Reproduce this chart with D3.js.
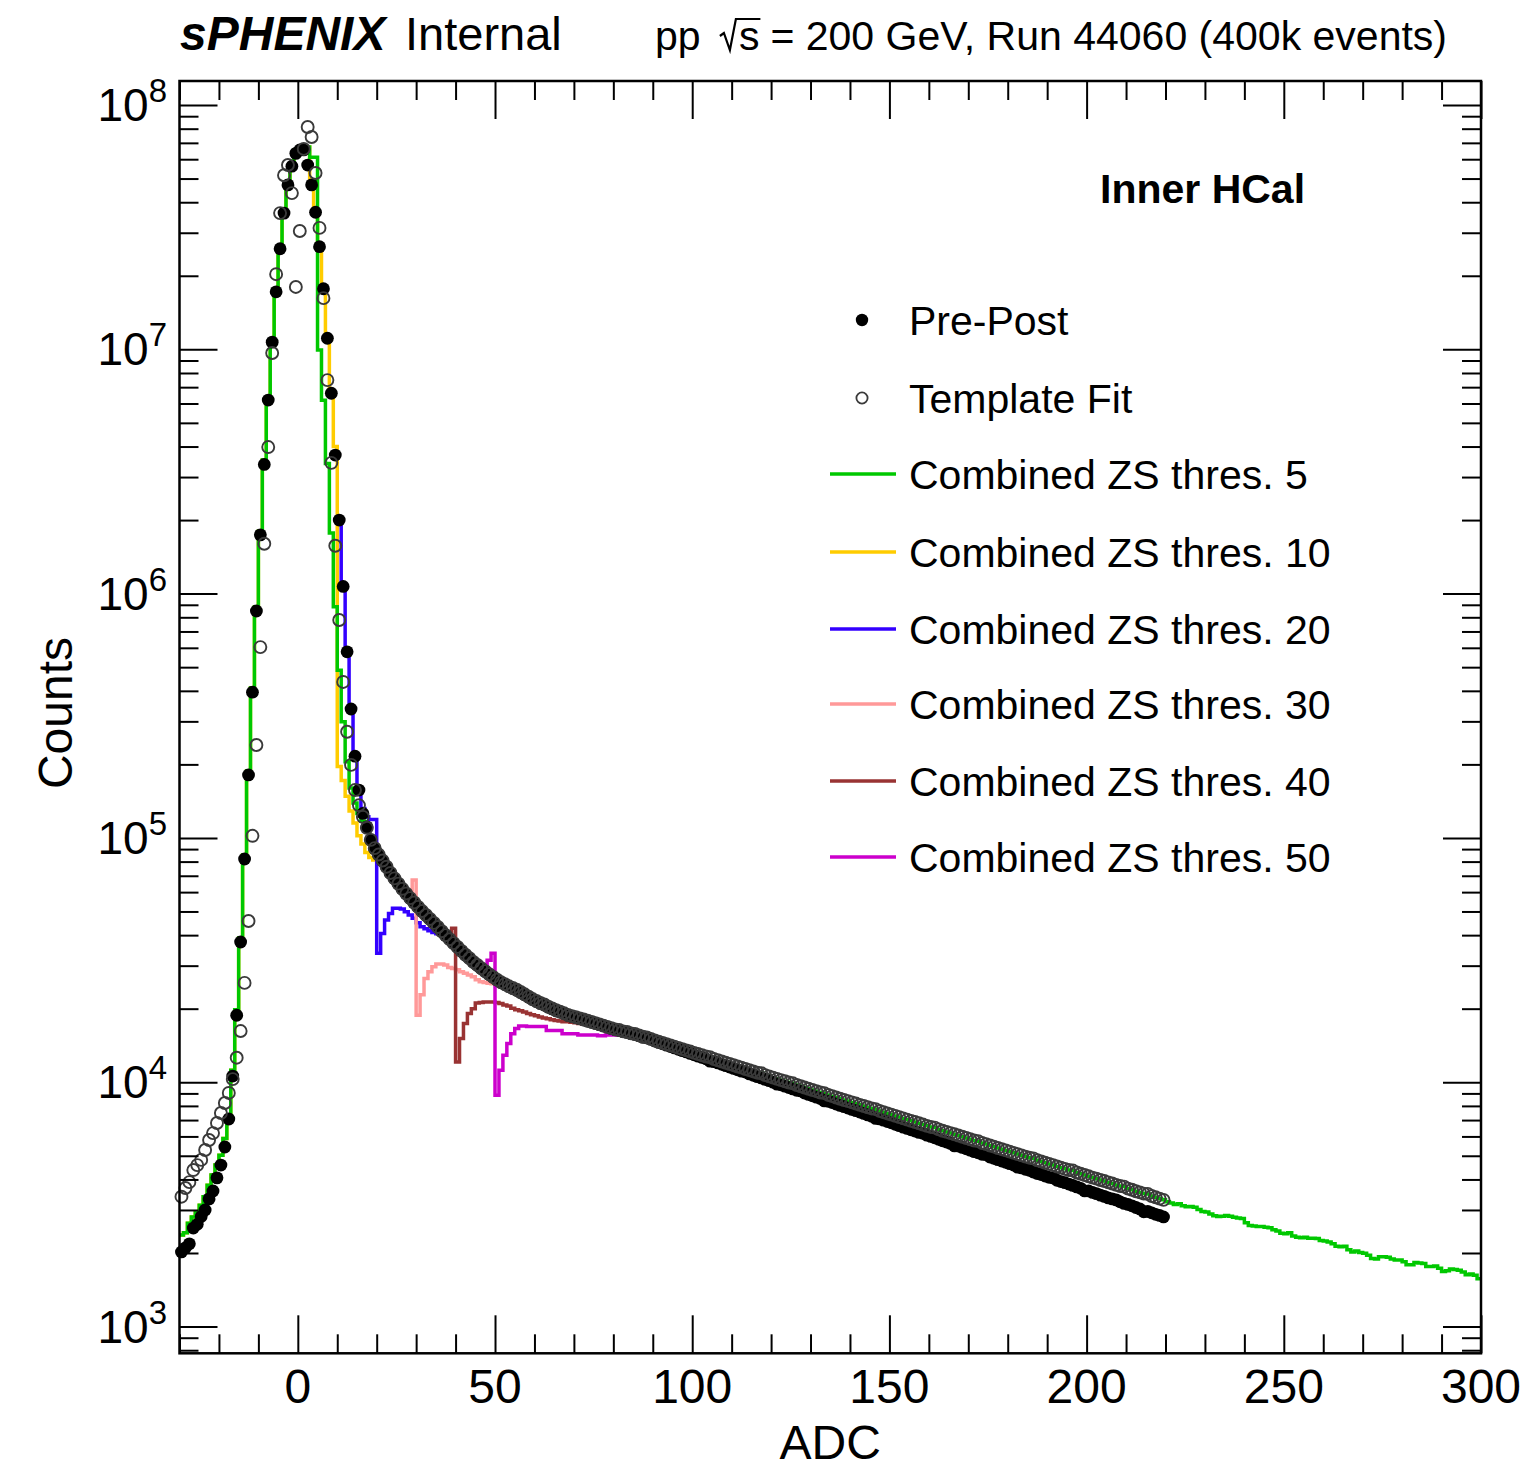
<!DOCTYPE html>
<html><head><meta charset="utf-8">
<script src="https://cdn.jsdelivr.net/npm/d3@7"></script>
<style>
body{margin:0;background:#fff}
svg{display:block}
text{font-family:"Liberation Sans",Arial,Helvetica,sans-serif;fill:#000}
</style>
</head><body>
<svg id="chart" width="1532" height="1469"></svg>
<script>
// ---------------- DATA (1-ADC-wide bins; each array starts at the lower edge given) ----------------
const xRange = [-30, 300];
const yRange = [777, 1.254e8];
const xMajorTicks = [0, 50, 100, 150, 200, 250, 300];
const yMajorTicks = [1e3, 1e4, 1e5, 1e6, 1e7, 1e8];
const yMajorExponents = ["3", "4", "5", "6", "7", "8"];

const prePostStart = -30;
const prePost = [
2020,2100,2180,2530,2620,2820,3000,3330,3590,4060,
4580,5430,7070,10600,18800,37500,82000,181000,395000,849000,
1740000,3380000,6200000,10700000,17200000,25800000,36100000,47100000,56200000,63400000,
65500000,65500000,56800000,47100000,36400000,26300000,17700000,11100000,6610000,3690000,
2000000,1070000,578000,337000,216000,157000,126000,111000,98200,90200,
85100,80400,75900,71600,68100,64700,61700,58900,56500,54200,
52000,50000,48200,46500,44800,43100,41400,39800,38400,37000,
35600,34400,33100,32100,31000,30100,29200,28400,27600,26900,
26200,25600,25100,24700,24200,23800,23300,22800,22300,21800,
21400,21000,20700,20300,19950,19600,19400,19100,18800,18600,
18400,18200,18000,17800,17600,17400,17200,17000,16800,16600,
16400,16300,16100,16000,15800,15700,15500,15300,15200,15000,
14740,14550,14360,14180,14000,13820,13640,13470,13300,13120,
12950,12790,12630,12470,12200,12140,11990,11840,11690,11540,
11390,11240,11100,11010,10820,10680,10540,10410,10270,10150,
10010,9820,9760,9640,9510,9390,9270,9210,9030,8910,
8800,8690,8580,8390,8360,8260,8140,8040,7940,7840,
7740,7650,7550,7450,7350,7260,7110,7080,6990,6900,
6820,6730,6640,6550,6470,6390,6310,6230,6180,6070,
6000,5920,5840,5760,5690,5620,5490,5480,5410,5340,
5270,5200,5140,5070,5050,4940,4880,4820,4760,4700,
4640,4580,4490,4460,4400,4360,4290,4230,4190,4130,
4080,4060,3970,3920,3880,3830,3780,3730,3680,3590,
3590,3540,3500,3450,3410,3360,3330,3300,3240,3190,
3160,3120,3070,3030,2950,2960,2920,2880,2850,2810
];

const templateFitStart = -30;
const templateFit = [
3400,3690,3900,4370,4580,4810,5280,5800,6190,6810,
7480,8220,9040,10300,12600,16200,25500,45700,102000,240000,
604000,1600000,3980000,9660000,20300000,36100000,51600000,56800000,43600000,18000000,
30500000,66100000,81300000,74000000,52700000,31400000,16200000,7480000,3430000,1570000,
780000,435000,272000,199000,157000,136000,122000,110000,98200,90800,
85500,80800,76200,71900,68300,65000,61900,59200,56700,54400,
52200,50200,48400,46600,44900,43200,41500,40000,38500,37100,
35800,34500,33300,32200,31100,30200,29300,28500,27700,27000,
26300,25700,25200,24700,24300,23900,23400,22900,22400,21900,
21500,21100,20800,20400,20050,19700,19450,19150,18850,18650,
18450,18250,18050,17850,17650,17450,17250,17050,16850,16650,
16450,16350,16150,16050,15850,15750,15550,15350,15250,15050,
14830,14650,14480,14320,14150,13990,13820,13660,13500,13350,
13190,13040,12890,12740,12650,12440,12300,12160,12010,11870,
11740,11600,11470,11330,11200,11070,10940,10880,10690,10570,
10440,10320,10200,10090,9970,9900,9740,9630,9510,9400,
9290,9190,9080,9020,8870,8770,8660,8560,8460,8370,
8270,8180,8080,7990,7900,7810,7760,7630,7540,7450,
7370,7280,7200,7110,7030,6950,6870,6790,6710,6630,
6560,6520,6410,6330,6260,6190,6120,6050,5980,5910,
5840,5770,5740,5640,5580,5510,5450,5380,5320,5260,
5200,5140,5080,5020,4960,4910,4880,4790,4740,4680,
4630,4580,4520,4470,4420,4370,4350,4270,4220,4170,
4120,4070,4030,3980,3940,3890,3850,3800,3760,3740,
3670,3630,3580,3540,3500,3490,3420,3380,3340,3300
];

const zs5Start = -30;
const zs5 = [
2370,2420,2650,2810,2920,3140,3400,3790,4170,4580,
5030,5890,7230,11200,19800,38900,85100,188000,411000,881000,
1800000,3520000,6320000,10900000,17500000,26200000,36800000,48000000,57300000,65400000,
67300000,67300000,67300000,61100000,61100000,9930000,6190000,3410000,1770000,883000,
486000,299000,205000,160000,139000,126000,117000,110000,97700,90800,
85500,80800,76200,71900,68300,65000,61900,59200,56700,54400,
52200,50200,48400,46600,44900,43200,41500,40000,38500,37100,
35800,34500,33300,32200,31100,30200,29300,28500,27700,27000,
26300,25700,25200,24700,24300,23900,23400,22900,22400,21900,
21500,21100,20800,20400,20050,19700,19450,19150,18850,18650,
18450,18250,18050,17850,17650,17450,17250,17050,16850,16650,
16450,16350,16150,16050,15850,15750,15550,15350,15250,15050,
14830,14650,14480,14320,14150,13990,13820,13660,13500,13350,
13190,13040,12890,12740,12650,12440,12300,12160,12010,11870,
11740,11600,11470,11330,11200,11070,10940,10880,10690,10570,
10440,10320,10200,10090,9970,9900,9740,9630,9510,9400,
9290,9190,9080,9020,8870,8770,8660,8560,8460,8370,
8270,8180,8080,7990,7900,7810,7760,7630,7540,7450,
7370,7280,7200,7110,7030,6950,6870,6790,6710,6630,
6560,6520,6410,6330,6260,6190,6120,6050,5980,5910,
5840,5770,5740,5640,5580,5510,5450,5380,5320,5260,
5200,5140,5080,5020,4960,4910,4880,4790,4740,4680,
4630,4580,4520,4470,4420,4370,4350,4270,4220,4170,
4120,4070,4030,3980,3940,3890,3850,3800,3760,3740,
3670,3630,3580,3540,3500,3490,3420,3380,3340,3300,
3240,3200,3160,3180,3120,3090,3100,3080,3010,2960,
2940,2890,2840,2820,2830,2850,2830,2800,2780,2770,
2660,2590,2580,2570,2570,2550,2540,2490,2460,2410,
2400,2420,2350,2320,2310,2320,2300,2300,2290,2250,
2240,2220,2180,2130,2120,2130,2060,2020,2040,2010,
1995,1960,1900,1890,1930,1930,1920,1890,1870,1870,
1840,1790,1790,1830,1820,1810,1760,1760,1770,1730,
1680,1690,1720,1710,1700,1670,1630,1640,1620,1570
];

const zs10Start = -30;
const zs10 = [
2370,2420,2650,2810,2920,3140,3400,3790,4170,4580,
5030,5890,7230,11200,19800,38900,85100,188000,411000,881000,
1800000,3520000,6320000,10900000,17500000,26200000,36800000,48000000,57300000,65400000,
67300000,67300000,67300000,
47100000,36400000,26300000,17700000,11100000,6610000,4000000,
196000,172000,148000,129000,115000,102000,94400,87100,83200,81300,
80400,78500,75900,71600,68100
];

const zs20Start = 10;
const zs20 = [
2000000,1070000,578000,337000,216000,157000,132000,122000,119000,119000,
33700,40600,46100,49100,51500,51500,51200,49900,48400,46900,
45000,43300,42500,41700,41000,40500,40200,39600,38400,37000,35600
];

const zs30Start = 26;
const zs30 = [
61700,58900,56500,67300,
18800,22800,26600,28300,29700,30500,30500,30200,29500,29200,
28900,28300,27900,27500,27000,26300,25800,25600,25400,25300,
25100,24900,24600,24400,24100,23700,23300,22800,22300,21800,21400
];

const zs40Start = 36;
const zs40 = [
41400,39800,38400,42700,
12100,15100,17400,19100,20000,21100,21200,21300,21300,21300,
21200,21000,20700,20500,20100,19800,19600,19400,19100,18900,
18700,18500,18300,18200,18000,17900,17800,17700,17700,17600,
17500,17400,17300,17200,17100,17000
];

const zs50Start = 46;
const zs50 = [
29200,28400,31600,33700,
8850,11200,12900,14400,15800,16600,17000,17000,16900,16900,
16900,16900,16900,16300,16300,16300,16300,15800,15800,15800,
15800,15600,15600,15600,15600,15600,15500,15500,15600,15600,
15600,15600,15700,15700,15700,15650,15500,15300,15200,15000
];

const histSeries = [
  {name:"Combined ZS thres. 5",  start:zs5Start,  values:zs5,  color:"#00c800"},
  {name:"Combined ZS thres. 10", start:zs10Start, values:zs10, color:"#ffcc00"},
  {name:"Combined ZS thres. 20", start:zs20Start, values:zs20, color:"#3300ff"},
  {name:"Combined ZS thres. 30", start:zs30Start, values:zs30, color:"#ff9999"},
  {name:"Combined ZS thres. 40", start:zs40Start, values:zs40, color:"#993333"},
  {name:"Combined ZS thres. 50", start:zs50Start, values:zs50, color:"#cc00cc"}
];
// draw order: ZS10, ZS20, ZS30, ZS40, ZS50, then ZS5 on top
const drawOrder = [1, 2, 3, 4, 5, 0];

// ---------------- CHART ----------------
const svg = d3.select("#chart");
const frame = {left:179.5, right:1481, top:81, bottom:1353.3};
const x = d3.scaleLinear().domain(xRange).range([frame.left, frame.right]);
const y = d3.scaleLog().domain(yRange).range([frame.bottom, frame.top]);

svg.append("rect").attr("width",1532).attr("height",1469).attr("fill","#fff");

svg.append("defs").append("clipPath").attr("id","plotclip")
  .append("rect").attr("x",frame.left).attr("y",frame.top)
  .attr("width",frame.right-frame.left).attr("height",frame.bottom-frame.top);

function stepPath(start, values){
  let d = "";
  values.forEach((v,i)=>{
    const x0 = x(start+i), x1 = x(start+i+1), yy = y(v);
    d += (i===0 ? `M${x0},${yy}` : `V${yy}`) + `H${x1}`;
  });
  return d;
}

const gHist = svg.append("g").attr("clip-path","url(#plotclip)");
drawOrder.forEach(k=>{
  const s = histSeries[k];
  gHist.append("path").attr("d", stepPath(s.start, s.values))
    .attr("fill","none").attr("stroke", s.color).attr("stroke-width",3.5)
    .attr("stroke-linejoin","miter");
});

// points
const gPts = svg.append("g");
gPts.selectAll("circle.pp").data(prePost).join("circle").attr("class","pp")
  .attr("cx",(d,i)=>x(prePostStart+i+0.5)).attr("cy",d=>y(d)).attr("r",6.4)
  .attr("fill","#000");
gPts.selectAll("circle.tf").data(templateFit).join("circle").attr("class","tf")
  .attr("cx",(d,i)=>x(templateFitStart+i+0.5)).attr("cy",d=>y(d)).attr("r",6)
  .attr("fill","none").attr("stroke","#3a3a3a").attr("stroke-width",1.9);

// axes (ticks on all four sides, pointing inward)
const majorLen = 38, minorLen = 19;
const isMajorY = v => Math.abs(Math.log10(v) - Math.round(Math.log10(v))) < 1e-9;
const yMinor = y.ticks().filter(v=>!isMajorY(v));
const xMinor = d3.range(-30, 301, 10).filter(v=>v%50!==0);

function styleAxis(g){
  g.select(".domain").remove();
  g.selectAll("text").remove();
  g.selectAll("line").attr("stroke","#000").attr("stroke-width",2);
}
const axes = [
  [d3.axisBottom(x), `translate(0,${frame.bottom})`, xMajorTicks, xMinor],
  [d3.axisTop(x), `translate(0,${frame.top})`, xMajorTicks, xMinor],
  [d3.axisLeft(y), `translate(${frame.left},0)`, yMajorTicks, yMinor],
  [d3.axisRight(y), `translate(${frame.right},0)`, yMajorTicks, yMinor]
];
axes.forEach(([ax, tr, maj, mnr])=>{
  svg.append("g").attr("transform",tr)
    .call(ax.tickValues(maj).tickSize(-majorLen).tickFormat("")).call(styleAxis);
  svg.append("g").attr("transform",tr)
    .call(ax.tickValues(mnr).tickSize(-minorLen).tickFormat("")).call(styleAxis);
});

svg.append("rect").attr("x",frame.left).attr("y",frame.top)
  .attr("width",frame.right-frame.left).attr("height",frame.bottom-frame.top)
  .attr("fill","none").attr("stroke","#000").attr("stroke-width",2.5);

// x tick labels
svg.append("g").selectAll("text").data(xMajorTicks).join("text")
  .attr("x",d=>x(d)).attr("y",1403).attr("text-anchor","middle")
  .attr("font-size",48).text(d=>d);

// y tick labels 10^n
const yl = svg.append("g").selectAll("text").data(yMajorTicks).join("text")
  .attr("x",167).attr("y",d=>y(d)+16).attr("text-anchor","end").attr("font-size",46);
yl.append("tspan").text("10");
yl.append("tspan").attr("font-size",33).attr("dy",-19).text((d,i)=>yMajorExponents[i]);

// axis titles
svg.append("text").attr("x",(frame.left+frame.right)/2).attr("y",1459)
  .attr("text-anchor","middle").attr("font-size",48).text("ADC");
svg.append("text").attr("transform","translate(72,713) rotate(-90)")
  .attr("text-anchor","middle").attr("font-size",48).text("Counts");

// header
svg.append("text").attr("x",180).attr("y",50).attr("font-size",48)
  .attr("font-weight","bold").attr("font-style","italic").text("sPHENIX");
svg.append("text").attr("x",405).attr("y",50).attr("font-size",47).text("Internal");

const hdr = svg.append("text").attr("x",1447).attr("y",50).attr("text-anchor","end")
  .attr("font-size",41).text("= 200 GeV, Run 44060 (400k events)");
const hdrStart = 1447 - hdr.node().getComputedTextLength();
const sTxt = svg.append("text").attr("font-size",41).attr("y",50).text("s");
const sW = sTxt.node().getComputedTextLength();
const sX = hdrStart - 11 - sW;
sTxt.attr("x", sX);
// radical sign
const rx = sX - 3;
svg.append("path")
  .attr("d",`M${rx-16},36 L${rx-12},33 L${rx-6},50 L${rx},19 H${sX+sW+1}`)
  .attr("fill","none").attr("stroke","#000").attr("stroke-width",2.2);
svg.append("text").attr("x",655).attr("y",50).attr("font-size",41).text("pp");

svg.append("text").attr("x",1100).attr("y",203).attr("font-size",41)
  .attr("font-weight","bold").text("Inner HCal");

// legend
const legRows = [320, 398, 474, 552, 629, 704, 781, 857];
const leg = svg.append("g");
leg.append("circle").attr("cx",862).attr("cy",legRows[0]).attr("r",6.2).attr("fill","#000");
leg.append("text").attr("x",909).attr("y",legRows[0]+15).attr("font-size",41).text("Pre-Post");
leg.append("circle").attr("cx",862).attr("cy",legRows[1]).attr("r",5.6)
  .attr("fill","none").attr("stroke","#3a3a3a").attr("stroke-width",1.8);
leg.append("text").attr("x",909).attr("y",legRows[1]+15).attr("font-size",41).text("Template Fit");
histSeries.forEach((s,i)=>{
  const yy = legRows[i+2];
  leg.append("line").attr("x1",830).attr("x2",896).attr("y1",yy).attr("y2",yy)
    .attr("stroke",s.color).attr("stroke-width",3.5);
  leg.append("text").attr("x",909).attr("y",yy+15).attr("font-size",41).text(s.name);
});
</script>
</body></html>
